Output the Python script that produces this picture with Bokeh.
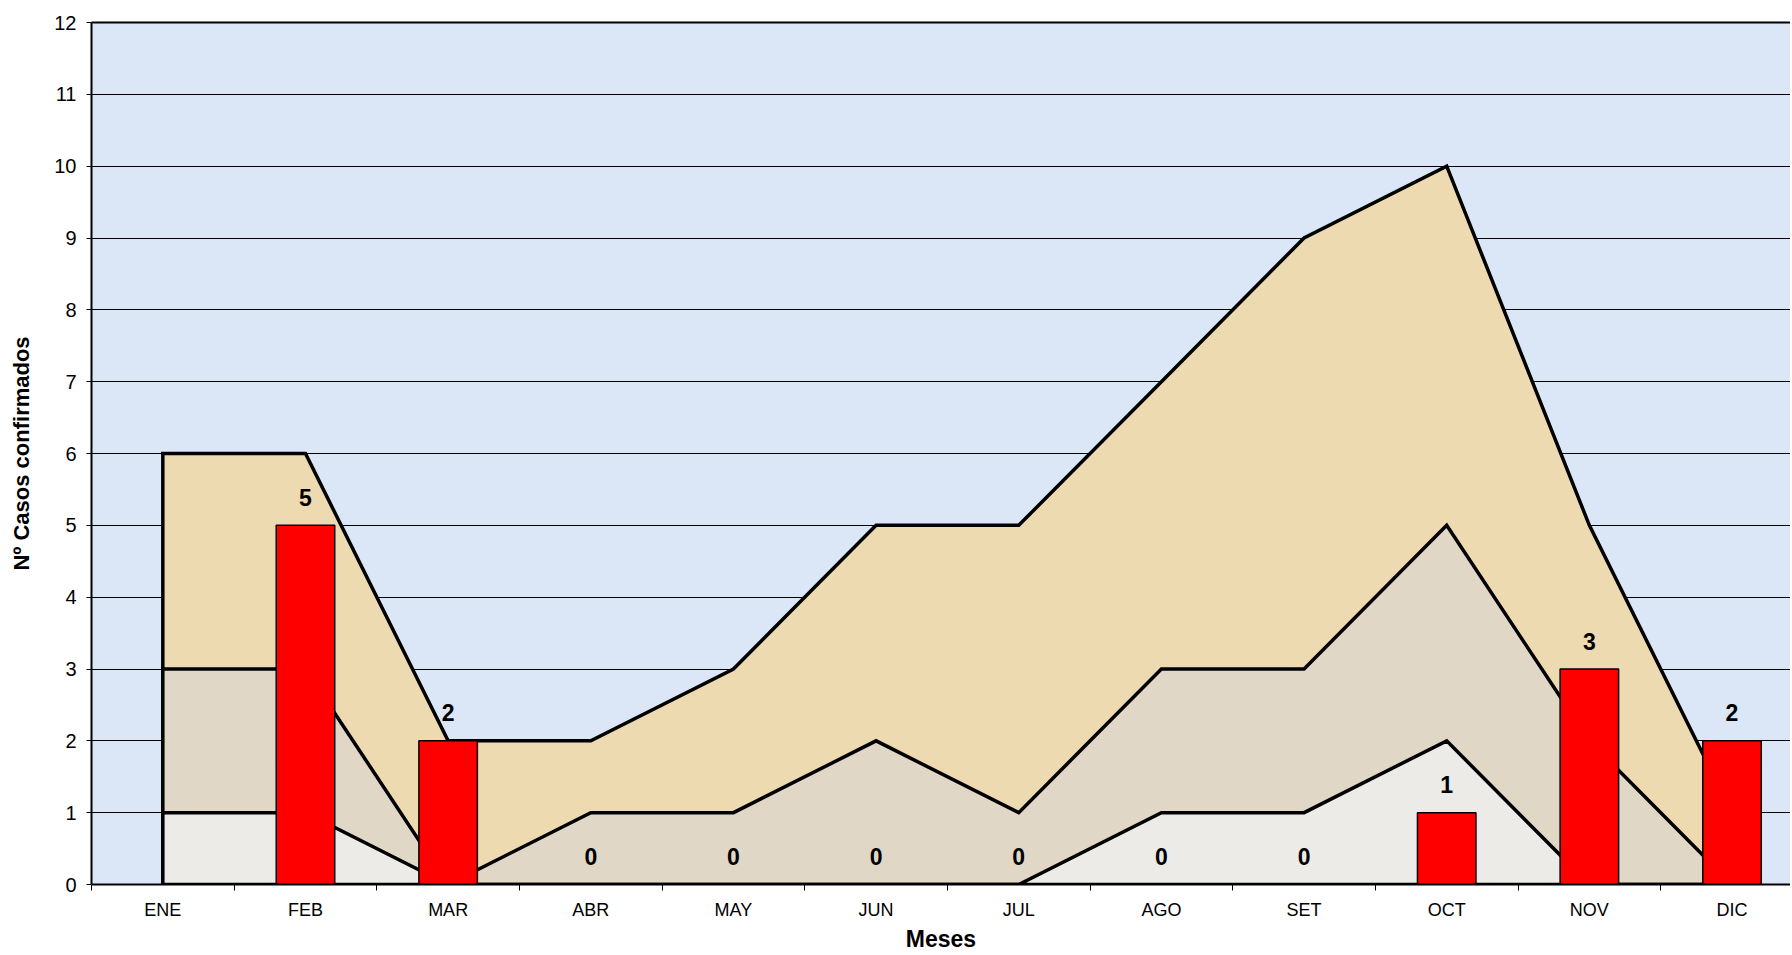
from bokeh.plotting import figure
from bokeh.models import Range1d, FixedTicker, ColumnDataSource, LinearAxis
from bokeh.core.properties import value
from bokeh.embed import file_html
from bokeh.resources import INLINE

# ---- data ----
meses = ["ENE", "FEB", "MAR", "ABR", "MAY", "JUN", "JUL", "AGO", "SET", "OCT", "NOV", "DIC"]
zona_epidemia = [6, 6, 2, 2, 3, 5, 5, 7, 9, 10, 5, 1]      # upper line
zona_alarma = [3, 3, 0, 1, 1, 2, 1, 3, 3, 5, 2, 0]         # middle line
zona_seguridad = [1, 1, 0, 0, 0, 0, 0, 1, 1, 2, 0, 0]      # lower line
casos = [None, 5, 2, 0, 0, 0, 0, 0, 0, 1, 3, 2]            # observed cases (bars)
y_ticks = list(range(0, 13))

FONT = "Liberation Sans"
n = len(meses)
centers = [i + 0.5 for i in range(n)]
bounds = [float(i) for i in range(n + 1)]

p = figure(width=1790, height=954,
           x_range=Range1d(0, 11.91), y_range=Range1d(0, 12),
           output_backend="svg", toolbar_location=None,
           min_border_left=91, min_border_right=0, min_border_top=22, min_border_bottom=60)

p.background_fill_color = "#DBE7F7"
p.border_fill_color = "white"
p.outline_line_color = None

# grid
p.xgrid.visible = False
p.ygrid.ticker = FixedTicker(ticks=y_ticks)
p.ygrid.grid_line_color = "black"
p.ygrid.grid_line_width = 1
p.ygrid.grid_line_alpha = 1.0

# areas (drawn from the data through the plot scales)
def area(vals, color):
    xs = centers + centers[::-1]
    ys = list(vals) + [0] * n
    p.patch(xs, ys, fill_color=color, fill_alpha=1.0, line_color="black",
            line_width=3.5, line_join="miter")

area(zona_epidemia, "#EEDAB0")
area(zona_alarma, "#E1D7C7")
area(zona_seguridad, "#ECEBE8")

# bars
bx = [c for c, v in zip(centers, casos) if v is not None]
by = [v for v in casos if v is not None]
src = ColumnDataSource(dict(x=bx, top=by, label=[str(v) for v in by]))
p.vbar(x="x", top="top", width=0.41, source=src, fill_color="#FF0000",
       line_color="black", line_width=1.5)
p.text(x="x", y="top", text="label", source=src, text_align="center",
       text_baseline="middle", y_offset=-28, text_font=value(FONT),
       text_font_style="bold", text_font_size="23px", text_color="black")

# x axis (below)
xa = p.below[0]
xa.ticker = FixedTicker(ticks=centers, minor_ticks=bounds)
xa.major_label_overrides = {c: m for c, m in zip(centers, meses)}
xa.major_tick_out = 0
xa.major_tick_in = 0
xa.minor_tick_out = 6
xa.minor_tick_in = 0
xa.minor_tick_line_color = "black"
xa.axis_line_color = "black"
xa.axis_line_width = 2
xa.major_label_text_font = FONT
xa.major_label_text_font_size = "18px"
xa.major_label_text_color = "black"
xa.major_label_standoff = 9
xa.axis_label = "Meses"
xa.axis_label_text_font = FONT
xa.axis_label_text_font_style = "bold"
xa.axis_label_text_font_size = "23px"
xa.axis_label_text_color = "black"
xa.axis_label_standoff = 3

# y axis
ya = p.left[0]
ya.ticker = FixedTicker(ticks=y_ticks)
ya.major_tick_out = 5
ya.major_tick_in = 0
ya.minor_tick_out = 0
ya.minor_tick_in = 0
ya.axis_line_color = "black"
ya.axis_line_width = 2
ya.major_label_text_font = FONT
ya.major_label_text_font_size = "20px"
ya.major_label_text_color = "black"
ya.major_label_standoff = 10
ya.axis_label = "Nº Casos confirmados"
ya.axis_label_text_font = FONT
ya.axis_label_text_font_style = "bold"
ya.axis_label_text_font_size = "22px"
ya.axis_label_text_color = "black"
ya.axis_label_standoff = 17

# top border drawn as an axis line (no ticks, no labels)
top = LinearAxis(ticker=FixedTicker(ticks=[]), major_tick_out=0, major_tick_in=0,
                 minor_tick_out=0, minor_tick_in=0, axis_line_color="black",
                 axis_line_width=2, major_label_text_font_size="0px")
p.add_layout(top, "above")

open("out.html", "w").write(file_html(p, INLINE))
